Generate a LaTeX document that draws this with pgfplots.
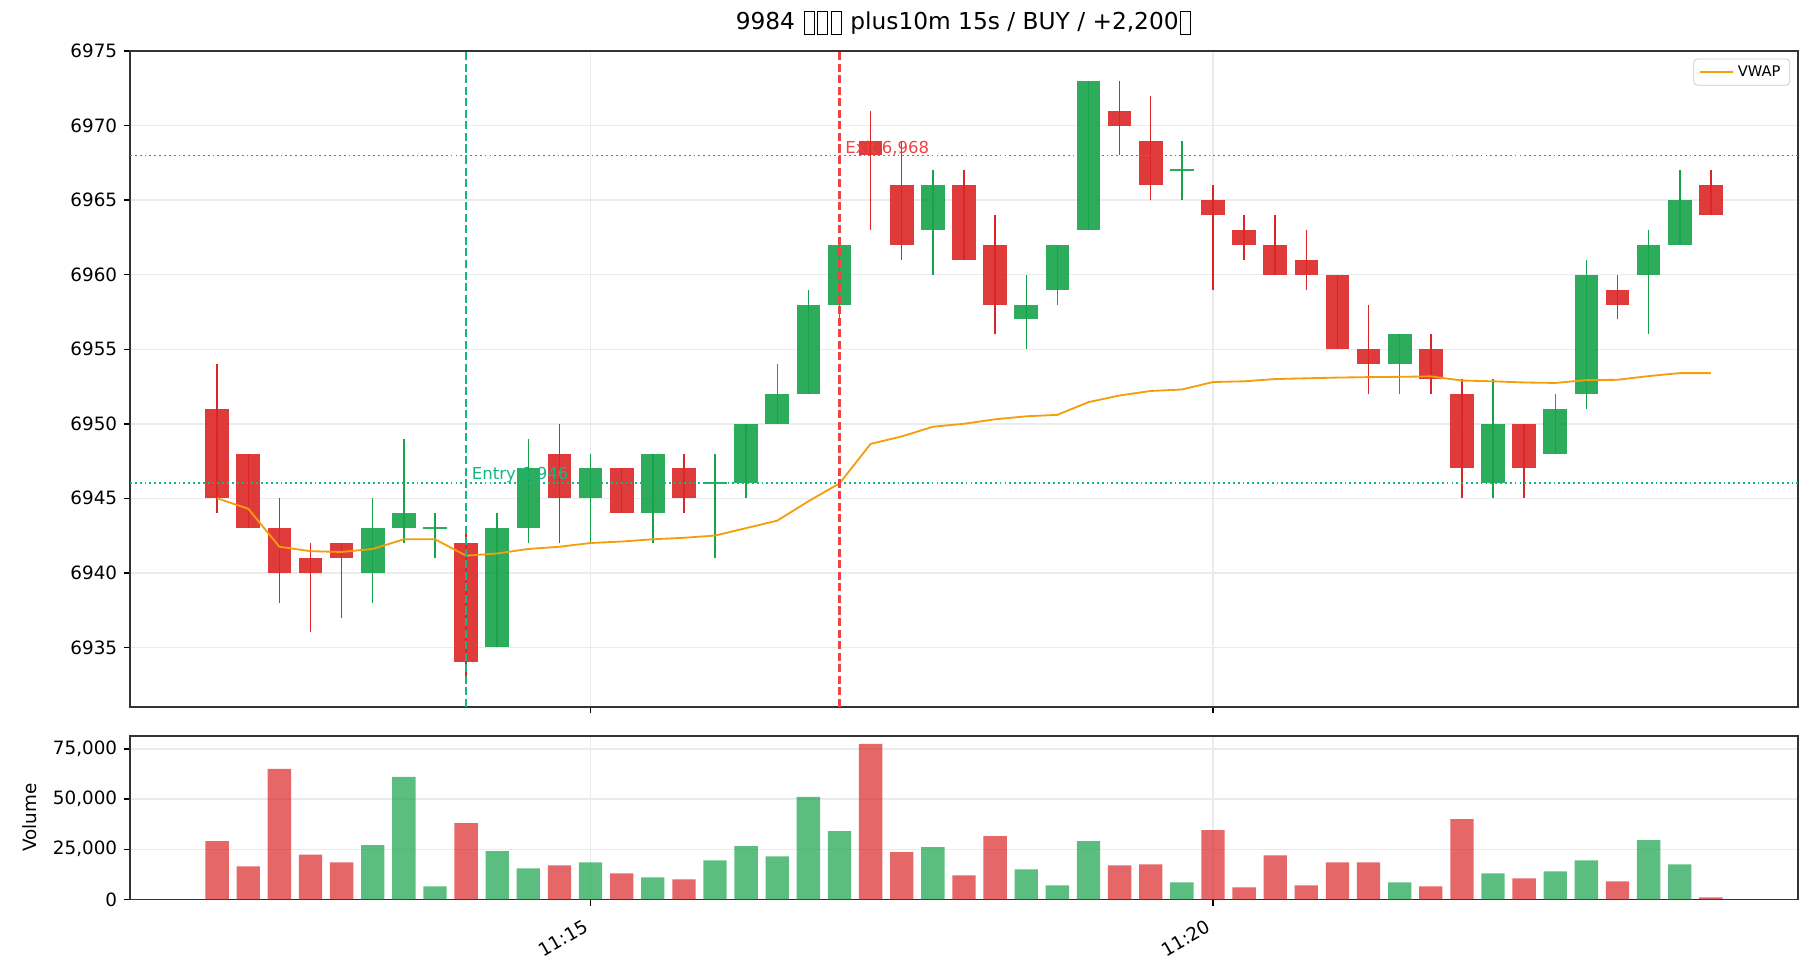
\documentclass[border=0pt]{standalone}
\usepackage{pgfplots}
\pgfplotsset{compat=1.18}
\usepackage{pgfplotstable}
\usepackage{fontspec}
\setmainfont{DejaVu Sans}
\definecolor{cred}{HTML}{DC2626}
\definecolor{cgreen}{HTML}{16A34A}
\definecolor{centry}{HTML}{10B981}
\definecolor{cexit}{HTML}{EF4444}
\definecolor{cvwap}{HTML}{F59E0B}
\definecolor{spine}{HTML}{333333}
\definecolor{gridc}{HTML}{EBEBEB}

\pgfplotstableread{
x o c h l v vwap
0 6951 6945 6954 6944 29000 6945.0
1 6948 6943 6948 6943 16500 6944.3
2 6943 6940 6945 6938 65000 6941.75
3 6941 6940 6942 6936 22300 6941.45
4 6942 6941 6942 6937 18500 6941.4
5 6940 6943 6945 6938 27000 6941.6
6 6943 6944 6949 6942 61000 6942.25
7 6943 6943 6944 6941 6500 6942.25
8 6942 6934 6943 6933 38000 6941.15
9 6935 6943 6944 6935 24000 6941.3
10 6943 6947 6949 6942 15500 6941.6
11 6948 6945 6950 6942 17000 6941.75
12 6945 6947 6948 6942 18500 6942.0
13 6947 6944 6947 6944 13000 6942.1
14 6944 6948 6948 6942 11000 6942.25
15 6947 6945 6948 6944 10000 6942.35
16 6946 6946 6948 6941 19500 6942.5
17 6946 6950 6950 6945 26500 6943.0
18 6950 6952 6954 6950 21500 6943.5
19 6952 6958 6959 6952 51000 6944.8
20 6958 6962 6962 6957 34000 6946.0
21 6969 6968 6971 6963 77500 6948.65
22 6966 6962 6969 6961 23500 6949.15
23 6963 6966 6967 6960 26000 6949.8
24 6966 6961 6967 6961 12000 6950.0
25 6962 6958 6964 6956 31500 6950.3
26 6957 6958 6960 6955 15000 6950.5
27 6959 6962 6962 6958 7000 6950.6
28 6963 6973 6973 6963 29000 6951.45
29 6971 6970 6973 6968 17000 6951.9
30 6969 6966 6972 6965 17500 6952.2
31 6967 6967 6969 6965 8500 6952.3
32 6965 6964 6966 6959 34500 6952.8
33 6963 6962 6964 6961 6000 6952.85
34 6962 6960 6964 6960 22000 6953.0
35 6961 6960 6963 6959 7000 6953.05
36 6960 6955 6960 6955 18500 6953.1
37 6955 6954 6958 6952 18500 6953.13
38 6954 6956 6956 6952 8500 6953.15
39 6955 6953 6956 6952 6500 6953.18
40 6952 6947 6953 6945 40000 6952.9
41 6946 6950 6953 6945 13000 6952.85
42 6950 6947 6950 6945 10500 6952.77
43 6948 6951 6952 6948 14000 6952.74
44 6952 6960 6961 6951 19500 6952.93
45 6959 6958 6960 6957 9000 6952.95
46 6960 6962 6963 6956 29500 6953.2
47 6962 6965 6967 6962 17500 6953.4
48 6966 6964 6967 6964 1000 6953.4
}\candles

\newcommand\tofu{\makebox[0.58em]{\raisebox{-0.2em}{\setlength\fboxsep{0pt}\setlength\fboxrule{0.5pt}\framebox[0.46em]{\rule{0pt}{0.94em}}}}}

\pgfplotsset{
  common/.style={
    scale only axis, width=909.8pt,
    xmin=-2.8, xmax=50.8,
    axis line style={spine, line width=1pt},
    tick pos=left, tick align=outside, major tick length=3.5pt,
    every tick/.style={black, line width=0.8pt},
    grid=major, major grid style={gridc, line width=0.8pt},
    xtick={12,32},
    /pgf/number format/assume math mode=true,
    tick label style={font=\fontsize{10}{12}\selectfont, text=black},
    scaled ticks=false,
    clip=true,
  },
  redsel/.style={restrict expr to domain={\thisrow{c}-\thisrow{o}}{-1000:-0.5}},
  greensel/.style={restrict expr to domain={\thisrow{c}-\thisrow{o}}{-0.5:1000}},
}

\begin{document}
\begin{tikzpicture}
\path[use as bounding box] (0,0) rectangle (992.7pt,-534.5pt);

\begin{axis}[common, name=main,
  at={(70.9pt,-385.6pt)}, anchor=south west, height=357.7pt,
  ymin=6931, ymax=6975, ytick={6935,6940,...,6975},
  /pgf/number format/1000 sep={},
  xticklabels={},
  title={9984 \tofu\tofu\tofu{} plus10m 15s / BUY / +2,200\tofu},
  title style={at={(0.5,1)}, anchor=base, yshift=6pt, font=\fontsize{12.7}{15}\selectfont},
  legend style={at={(axis description cs:0.9952,0.9887)}, anchor=north east,
    draw=black!20, rounded corners=2pt, fill=white, fill opacity=0.8, text opacity=1,
    font=\fontsize{8}{9.6}\selectfont, inner xsep=3pt, inner ysep=1.5pt},
  legend image code/.code={\draw[#1] (0pt,0pt) -- (18pt,0pt);},
]
% wicks
\addplot[forget plot, draw=none, mark=none, redsel,
  error bars/.cd, y dir=plus, y explicit, error mark=none,
  error bar style={draw=cred, line width=0.8pt}]
  table[x=x, y=l, y error plus expr={\thisrow{h}-\thisrow{l}}]{\candles};
\addplot[forget plot, draw=none, mark=none, greensel,
  error bars/.cd, y dir=plus, y explicit, error mark=none,
  error bar style={draw=cgreen, line width=0.8pt}]
  table[x=x, y=l, y error plus expr={\thisrow{h}-\thisrow{l}}]{\candles};
% bodies
\addplot[forget plot, draw=none, mark=none, redsel,
  error bars/.cd, y dir=plus, y explicit, error mark=none,
  error bar style={draw=cred, draw opacity=0.9, line width=12.9pt}]
  table[x=x, y=c, y error plus expr={\thisrow{o}-\thisrow{c}}]{\candles};
\addplot[forget plot, draw=none, mark=none, greensel,
  error bars/.cd, y dir=plus, y explicit, error mark=none,
  error bar style={draw=cgreen, draw opacity=0.9, line width=12.9pt}]
  table[x=x, y expr={\thisrow{o}-0.5*max(0,0.13-(\thisrow{c}-\thisrow{o}))},
        y error plus expr={max(0.13,\thisrow{c}-\thisrow{o})}]{\candles};
% VWAP
\addplot[cvwap, line width=1pt, mark=none] table[x=x, y=vwap]{\candles};
\addlegendentry{VWAP}
% entry / exit
\addplot[forget plot, centry, line width=1.2pt, dash pattern=on 4.4pt off 1.9pt] coordinates {(8,6931) (8,6975)};
\addplot[forget plot, centry, line width=1pt, dash pattern=on 1pt off 1.65pt] coordinates {(-2.8,6946) (50.8,6946)};
\addplot[forget plot, cexit, line width=1.2pt, dash pattern=on 4.4pt off 1.9pt] coordinates {(20,6931) (20,6975)};
\addplot[forget plot, cexit, line width=1pt, dash pattern=on 1pt off 1.65pt] coordinates {(-2.8,6968) (50.8,6968)};
\node[anchor=south west, inner sep=0pt, xshift=3pt, text=centry, font=\fontsize{9}{11}\selectfont] at (axis cs:8,6946) {Entry 6,946};
\node[anchor=south west, inner sep=0pt, xshift=3pt, text=cexit, font=\fontsize{9}{11}\selectfont] at (axis cs:20,6968) {Exit 6,968};
\end{axis}

\begin{axis}[common, name=vol,
  at={(70.9pt,-490.6pt)}, anchor=south west, height=89.2pt,
  ymin=0, ymax=81400, ytick={0,25000,50000,75000},
  /pgf/number format/1000 sep={,},
  xticklabels={11:15,11:20},
  xticklabel style={xshift=-4.2pt, yshift=-7pt, rotate=30, anchor=north east, inner sep=0pt},
  ylabel={Volume},
  every axis y label/.style={at={(axis description cs:-0.0599,0.5)}, rotate=90, anchor=center, font=\fontsize{10}{12}\selectfont},
]
\addplot[ybar, bar width=0.75, bar shift=0pt, fill=cred, fill opacity=0.7, draw=none, redsel]
  table[x=x, y=v]{\candles};
\addplot[ybar, bar width=0.75, bar shift=0pt, fill=cgreen, fill opacity=0.7, draw=none, greensel]
  table[x=x, y=v]{\candles};
\end{axis}
\end{tikzpicture}
\end{document}
